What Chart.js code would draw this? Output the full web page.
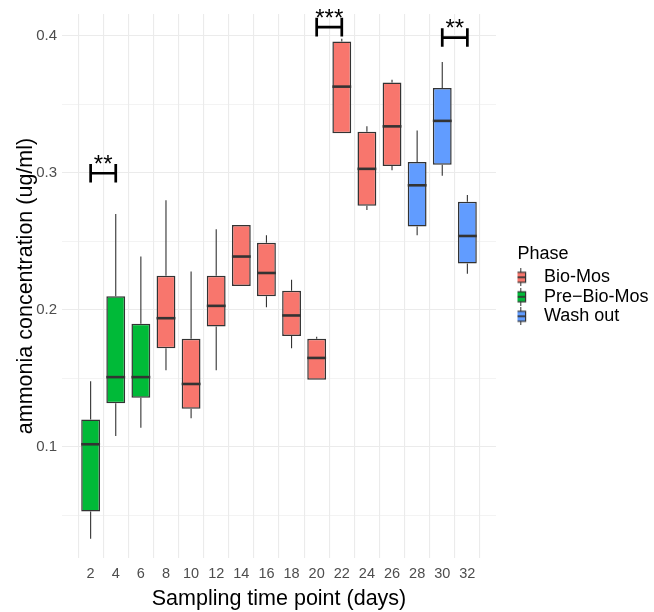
<!DOCTYPE html>
<html>
<head>
<meta charset="utf-8">
<script src="https://cdn.jsdelivr.net/npm/chart.js@4.4.1/dist/chart.umd.min.js"></script>
<style>
  html, body { margin: 0; padding: 0; background: #ffffff; }
  #wrap { width: 654px; height: 612px; }
</style>
</head>
<body>
<div id="wrap"><canvas id="chart" width="654" height="612"></canvas></div>
<script>
// Sampling days and the phase each one belongs to
const days = [2, 4, 6, 8, 10, 12, 14, 16, 18, 20, 22, 24, 26, 28, 30, 32];
const dayPhase = ['Pre−Bio-Mos', 'Pre−Bio-Mos', 'Pre−Bio-Mos',
  'Bio-Mos', 'Bio-Mos', 'Bio-Mos', 'Bio-Mos', 'Bio-Mos', 'Bio-Mos', 'Bio-Mos', 'Bio-Mos', 'Bio-Mos', 'Bio-Mos',
  'Wash out', 'Wash out', 'Wash out'];

// Phases (legend order) and their fill colours
const phases = ['Bio-Mos', 'Pre−Bio-Mos', 'Wash out'];
const phaseColors = ['#F8766D', '#00BA38', '#619CFF'];

// Box statistics per day (ug/ml)
const whiskerLow  = [0.033, 0.108, 0.114, 0.156, 0.121, 0.156, 0.2175, 0.202, 0.172, 0.149, 0.329, 0.273, 0.302, 0.2545, 0.298, 0.2265];
const lowerQ      = [0.053, 0.132, 0.136, 0.172, 0.128, 0.188, 0.2175, 0.210, 0.181, 0.149, 0.329, 0.276, 0.305, 0.261, 0.306, 0.234];
const medians     = [0.102, 0.151, 0.151, 0.194, 0.146, 0.203, 0.239, 0.227, 0.196, 0.165, 0.363, 0.303, 0.334, 0.291, 0.338, 0.254];
const upperQ      = [0.120, 0.210, 0.190, 0.225, 0.179, 0.225, 0.262, 0.249, 0.214, 0.179, 0.396, 0.330, 0.366, 0.308, 0.362, 0.279];
const whiskerHigh = [0.148, 0.270, 0.239, 0.280, 0.228, 0.259, 0.262, 0.2545, 0.222, 0.1805, 0.398, 0.334, 0.368, 0.331, 0.381, 0.284];

// Y gridline positions; every second one carries a label
const yGrid = [0.05, 0.10, 0.15, 0.20, 0.25, 0.30, 0.35, 0.40];
const yLabelled = [0.1, 0.2, 0.3, 0.4];

// Significance brackets between pairs of days
const sigFrom  = [2, 20, 30];
const sigTo    = [4, 22, 32];
const sigLevel = [0.2998, 0.4064, 0.3988];
const sigText  = ['**', '***', '**'];

const FONT = "'Liberation Sans', Arimo, Arial, sans-serif";
const OUTLINE = '#333333';
const BOX_HALF = 0.75; // half box width, in days

// Small boxplot glyph used as legend key
function makeKey(color) {
  const c = document.createElement('canvas');
  c.width = 34; c.height = 18;
  const g = c.getContext('2d');
  const cx = 10.8;
  g.strokeStyle = OUTLINE;
  g.lineWidth = 1;
  g.beginPath(); g.moveTo(cx, 0); g.lineTo(cx, 18); g.stroke();
  g.fillStyle = color;
  g.fillRect(cx - 4.8, 4, 9.6, 10);
  g.lineWidth = 1.2;
  g.strokeRect(cx - 4.8, 4, 9.6, 10);
  g.lineWidth = 1.7;
  g.beginPath(); g.moveTo(cx - 4.8, 9); g.lineTo(cx + 4.8, 9); g.stroke();
  return c;
}
const keyGlyphs = phaseColors.map(makeKey);

// One floating-bar dataset per phase: each bar spans lower to upper quartile
const datasets = phases.map((p, pi) => ({
  label: p,
  data: days.map((d, i) => dayPhase[i] === p ? { x: d, y: [lowerQ[i], upperQ[i]] } : null).filter(Boolean),
  backgroundColor: phaseColors[pi],
  borderColor: OUTLINE,
  borderWidth: 1.5,
  borderSkipped: false,
  grouped: false,
  categoryPercentage: 0.75,
  barPercentage: 1.0
}));

// Whiskers below the boxes, medians and significance brackets above
const boxExtras = {
  id: 'boxExtras',
  beforeDatasetsDraw(chart) {
    const { ctx, scales: { x, y } } = chart;
    ctx.save();
    ctx.strokeStyle = OUTLINE;
    ctx.lineWidth = 1.1;
    days.forEach((d, i) => {
      const px = x.getPixelForValue(d);
      ctx.beginPath();
      ctx.moveTo(px, y.getPixelForValue(whiskerHigh[i]));
      ctx.lineTo(px, y.getPixelForValue(upperQ[i]));
      ctx.moveTo(px, y.getPixelForValue(lowerQ[i]));
      ctx.lineTo(px, y.getPixelForValue(whiskerLow[i]));
      ctx.stroke();
    });
    ctx.restore();
  },
  afterDatasetsDraw(chart) {
    const { ctx, scales: { x, y } } = chart;
    ctx.save();
    ctx.strokeStyle = OUTLINE;
    ctx.lineWidth = 2.6;
    days.forEach((d, i) => {
      const py = y.getPixelForValue(medians[i]);
      ctx.beginPath();
      ctx.moveTo(x.getPixelForValue(d - BOX_HALF), py);
      ctx.lineTo(x.getPixelForValue(d + BOX_HALF), py);
      ctx.stroke();
    });
    // brackets
    ctx.strokeStyle = '#000000';
    ctx.fillStyle = '#000000';
    ctx.lineWidth = 2.7;
    ctx.font = '24px ' + FONT;
    ctx.textAlign = 'center';
    ctx.textBaseline = 'alphabetic';
    sigFrom.forEach((f, k) => {
      const x1 = x.getPixelForValue(f);
      const x2 = x.getPixelForValue(sigTo[k]);
      const py = y.getPixelForValue(sigLevel[k]);
      ctx.beginPath();
      ctx.moveTo(x1, py); ctx.lineTo(x2, py);
      ctx.moveTo(x1, py - 9.3); ctx.lineTo(x1, py + 9.3);
      ctx.moveTo(x2, py - 9.3); ctx.lineTo(x2, py + 9.3);
      ctx.stroke();
      ctx.fillText(sigText[k], (x1 + x2) / 2, py - 1.5);
    });
    ctx.restore();
  }
};

// Fixed legend column at the right-hand side, beside the plotting area
const legendPlacement = {
  id: 'legendPlacement',
  beforeLayout(chart) {
    const lg = chart.legend;
    if (lg && !lg.__fixedWidth) {
      const baseFit = Object.getPrototypeOf(lg).fit;
      lg.fit = function () { baseFit.call(this); this.width = 158; };
      lg.__fixedWidth = true;
    }
  },
  afterLayout(chart) {
    const lg = chart.legend;
    if (lg) {
      lg.left = 517.5; lg.right = 654;
      lg.top = chart.chartArea.top; lg.bottom = chart.chartArea.bottom;
      lg.height = lg.bottom - lg.top;
    }
  }
};

Chart.defaults.font.family = FONT;

new Chart(document.getElementById('chart'), {
  type: 'bar',
  data: { datasets },
  plugins: [legendPlacement, boxExtras],
  options: {
    responsive: false,
    animation: false,
    devicePixelRatio: 1,
    layout: { padding: { top: 14, right: 0, bottom: 0, left: 0 } },
    plugins: {
      tooltip: { enabled: false },
      legend: {
        position: 'right',
        align: 'center',
        title: {
          display: true,
          text: 'Phase',
          position: 'start',
          color: '#000000',
          font: { size: 18 },
          padding: 0
        },
        labels: {
          usePointStyle: true,
          pointStyleWidth: 16,
          padding: 1.5,
          color: '#000000',
          font: { size: 18 },
          generateLabels: () => phases.map((p, i) => ({
            text: p,
            pointStyle: keyGlyphs[i],
            fillStyle: phaseColors[i],
            strokeStyle: OUTLINE,
            lineWidth: 0,
            hidden: false,
            datasetIndex: i
          }))
        }
      }
    },
    scales: {
      x: {
        type: 'linear',
        min: 0.8,
        max: 33.2,
        afterBuildTicks: (s) => { s.ticks = days.map(v => ({ value: v })); },
        afterFit: (s) => { s.height = 54; },
        ticks: {
          autoSkip: false,
          maxRotation: 0,
          color: '#4D4D4D',
          font: { size: 14.5 },
          padding: 7.6,
          callback: (v) => String(v)
        },
        grid: { color: '#EBEBEB', lineWidth: 1.1, drawTicks: false },
        border: { display: false },
        title: {
          display: true,
          text: 'Sampling time point (days)',
          color: '#000000',
          font: { size: 21.5 },
          padding: { top: 0, bottom: 0.5 }
        }
      },
      y: {
        type: 'linear',
        min: 0.019,
        max: 0.416,
        afterBuildTicks: (s) => { s.ticks = yGrid.map(v => ({ value: v })); },
        afterFit: (s) => { s.width = 62; },
        ticks: {
          color: '#4D4D4D',
          font: { size: 15 },
          padding: 5,
          callback: (v) => yLabelled.some(l => Math.abs(l - v) < 1e-9) ? v.toFixed(1) : ''
        },
        grid: {
          color: '#EBEBEB',
          drawTicks: false,
          lineWidth: (c) => yLabelled.some(l => Math.abs(l - c.tick.value) < 1e-9) ? 1.1 : 0.6
        },
        border: { display: false },
        title: {
          display: true,
          text: 'ammonia concentration (ug/ml)',
          color: '#000000',
          font: { size: 21.5 },
          padding: { top: 13.5, bottom: 0 }
        }
      }
    }
  }
});
</script>
</body>
</html>
